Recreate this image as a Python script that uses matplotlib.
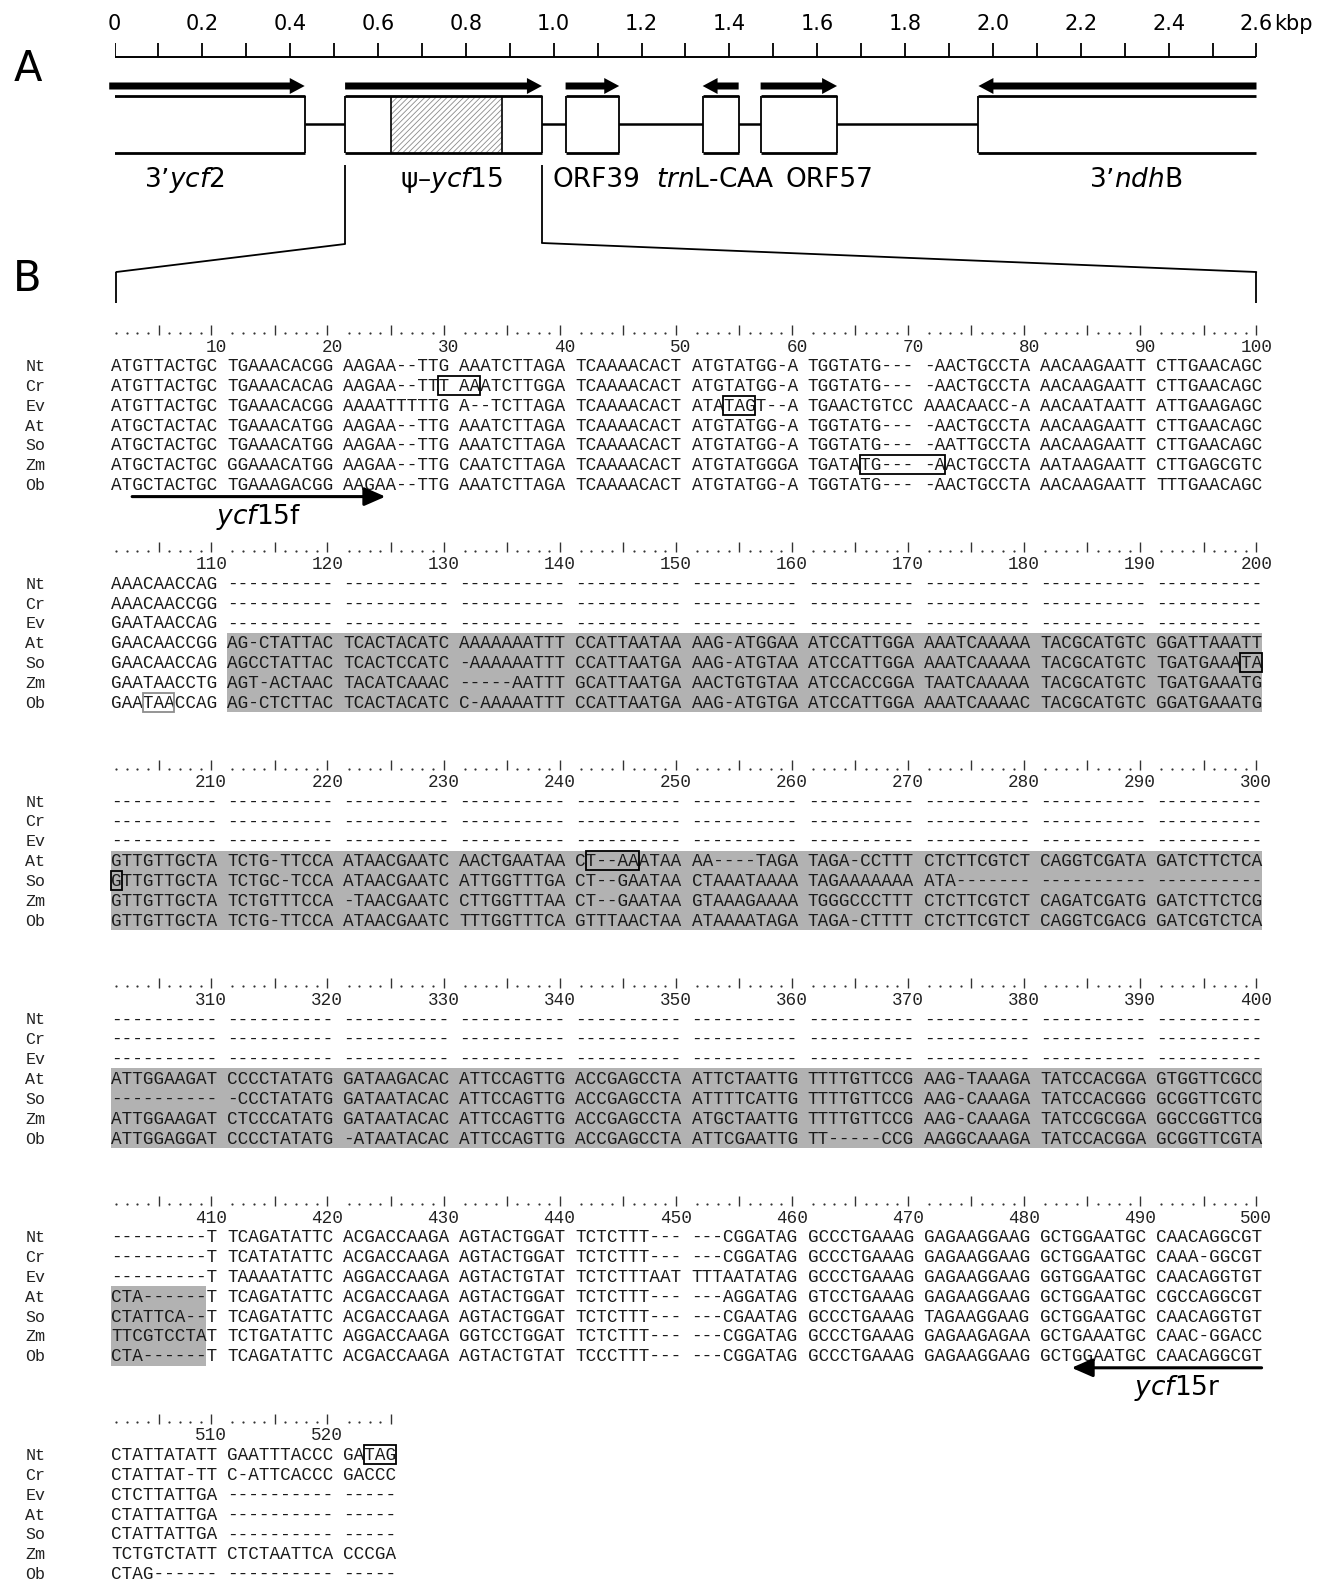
import matplotlib
matplotlib.use("Agg")
import matplotlib.pyplot as plt
import numpy as np
from matplotlib.patches import Rectangle, FancyArrow, ConnectionPatch

# ---------------------------------------------------------------
# Panel A: gene map of the region (kbp)
# ---------------------------------------------------------------
tick_labels = ["0", "0.2", "0.4", "0.6", "0.8", "1.0", "1.2", "1.4",
               "1.6", "1.8", "2.0", "2.2", "2.4", "2.6"]
gene_names = ["3’$\\it{ycf}$2", "ψ–$\\it{ycf}$15", "ORF39",
              "$\\it{trn}$L-CAA", "ORF57", "3’$\\it{ndh}$B"]
gene_start = [-0.012, 0.525, 1.027, 1.339, 1.471, 1.967]
gene_end = [0.433, 0.973, 1.149, 1.421, 1.645, 2.600]
gene_strand = [1, 1, 1, -1, 1, -1]
gene_label_x = [0.158, 0.767, 1.098, 1.368, 1.627, 2.325]
pseudo_start, pseudo_end = 0.629, 0.882

# ---------------------------------------------------------------
# Panel B: alignment of ycf15 region, 10-base chunks per line
# ---------------------------------------------------------------
species = ["Nt", "Cr", "Ev", "At", "So", "Zm", "Ob"]
G = "----------"

nt_seq = [
    "ATGTTACTGC", "TGAAACACGG", "AAGAA--TTG", "AAATCTTAGA", "TCAAAACACT", "ATGTATGG-A", "TGGTATG---", "-AACTGCCTA", "AACAAGAATT", "CTTGAACAGC",
    "AAACAACCAG", G, G, G, G, G, G, G, G, G,
    G, G, G, G, G, G, G, G, G, G,
    G, G, G, G, G, G, G, G, G, G,
    "---------T", "TCAGATATTC", "ACGACCAAGA", "AGTACTGGAT", "TCTCTTT---", "---CGGATAG", "GCCCTGAAAG", "GAGAAGGAAG", "GCTGGAATGC", "CAACAGGCGT",
    "CTATTATATT", "GAATTTACCC", "GATAG",
]
cr_seq = [
    "ATGTTACTGC", "TGAAACACAG", "AAGAA--TTT", "AAATCTTGGA", "TCAAAACACT", "ATGTATGG-A", "TGGTATG---", "-AACTGCCTA", "AACAAGAATT", "CTTGAACAGC",
    "AAACAACCGG", G, G, G, G, G, G, G, G, G,
    G, G, G, G, G, G, G, G, G, G,
    G, G, G, G, G, G, G, G, G, G,
    "---------T", "TCATATATTC", "ACGACCAAGA", "AGTACTGGAT", "TCTCTTT---", "---CGGATAG", "GCCCTGAAAG", "GAGAAGGAAG", "GCTGGAATGC", "CAAA-GGCGT",
    "CTATTAT-TT", "C-ATTCACCC", "GACCC",
]
ev_seq = [
    "ATGTTACTGC", "TGAAACACGG", "AAAATTTTTG", "A--TCTTAGA", "TCAAAACACT", "ATATAGT--A", "TGAACTGTCC", "AAACAACC-A", "AACAATAATT", "ATTGAAGAGC",
    "GAATAACCAG", G, G, G, G, G, G, G, G, G,
    G, G, G, G, G, G, G, G, G, G,
    G, G, G, G, G, G, G, G, G, G,
    "---------T", "TAAAATATTC", "AGGACCAAGA", "AGTACTGTAT", "TCTCTTTAAT", "TTTAATATAG", "GCCCTGAAAG", "GAGAAGGAAG", "GGTGGAATGC", "CAACAGGTGT",
    "CTCTTATTGA", G, "-----",
]
at_seq = [
    "ATGCTACTAC", "TGAAACATGG", "AAGAA--TTG", "AAATCTTAGA", "TCAAAACACT", "ATGTATGG-A", "TGGTATG---", "-AACTGCCTA", "AACAAGAATT", "CTTGAACAGC",
    "GAACAACCGG", "AG-CTATTAC", "TCACTACATC", "AAAAAAATTT", "CCATTAATAA", "AAG-ATGGAA", "ATCCATTGGA", "AAATCAAAAA", "TACGCATGTC", "GGATTAAATT",
    "GTTGTTGCTA", "TCTG-TTCCA", "ATAACGAATC", "AACTGAATAA", "CT--AAATAA", "AA----TAGA", "TAGA-CCTTT", "CTCTTCGTCT", "CAGGTCGATA", "GATCTTCTCA",
    "ATTGGAAGAT", "CCCCTATATG", "GATAAGACAC", "ATTCCAGTTG", "ACCGAGCCTA", "ATTCTAATTG", "TTTTGTTCCG", "AAG-TAAAGA", "TATCCACGGA", "GTGGTTCGCC",
    "CTA------T", "TCAGATATTC", "ACGACCAAGA", "AGTACTGGAT", "TCTCTTT---", "---AGGATAG", "GTCCTGAAAG", "GAGAAGGAAG", "GCTGGAATGC", "CGCCAGGCGT",
    "CTATTATTGA", G, "-----",
]
so_seq = [
    "ATGCTACTGC", "TGAAACATGG", "AAGAA--TTG", "AAATCTTAGA", "TCAAAACACT", "ATGTATGG-A", "TGGTATG---", "-AATTGCCTA", "AACAAGAATT", "CTTGAACAGC",
    "GAACAACCAG", "AGCCTATTAC", "TCACTCCATC", "-AAAAAATTT", "CCATTAATGA", "AAG-ATGTAA", "ATCCATTGGA", "AAATCAAAAA", "TACGCATGTC", "TGATGAAATA",
    "GTTGTTGCTA", "TCTGC-TCCA", "ATAACGAATC", "ATTGGTTTGA", "CT--GAATAA", "CTAAATAAAA", "TAGAAAAAAA", "ATA-------", G, G,
    G, "-CCCTATATG", "GATAATACAC", "ATTCCAGTTG", "ACCGAGCCTA", "ATTTTCATTG", "TTTTGTTCCG", "AAG-CAAAGA", "TATCCACGGG", "GCGGTTCGTC",
    "CTATTCA--T", "TCAGATATTC", "ACGACCAAGA", "AGTACTGGAT", "TCTCTTT---", "---CGAATAG", "GCCCTGAAAG", "TAGAAGGAAG", "GCTGGAATGC", "CAACAGGTGT",
    "CTATTATTGA", G, "-----",
]
zm_seq = [
    "ATGCTACTGC", "GGAAACATGG", "AAGAA--TTG", "CAATCTTAGA", "TCAAAACACT", "ATGTATGGGA", "TGATATG---", "-AACTGCCTA", "AATAAGAATT", "CTTGAGCGTC",
    "GAATAACCTG", "AGT-ACTAAC", "TACATCAAAC", "-----AATTT", "GCATTAATGA", "AACTGTGTAA", "ATCCACCGGA", "TAATCAAAAA", "TACGCATGTC", "TGATGAAATG",
    "GTTGTTGCTA", "TCTGTTTCCA", "-TAACGAATC", "CTTGGTTTAA", "CT--GAATAA", "GTAAAGAAAA", "TGGGCCCTTT", "CTCTTCGTCT", "CAGATCGATG", "GATCTTCTCG",
    "ATTGGAAGAT", "CTCCCATATG", "GATAATACAC", "ATTCCAGTTG", "ACCGAGCCTA", "ATGCTAATTG", "TTTTGTTCCG", "AAG-CAAAGA", "TATCCGCGGA", "GGCCGGTTCG",
    "TTCGTCCTAT", "TCTGATATTC", "AGGACCAAGA", "GGTCCTGGAT", "TCTCTTT---", "---CGGATAG", "GCCCTGAAAG", "GAGAAGAGAA", "GCTGAAATGC", "CAAC-GGACC",
    "TCTGTCTATT", "CTCTAATTCA", "CCCGA",
]
ob_seq = [
    "ATGCTACTGC", "TGAAAGACGG", "AAGAA--TTG", "AAATCTTAGA", "TCAAAACACT", "ATGTATGG-A", "TGGTATG---", "-AACTGCCTA", "AACAAGAATT", "TTTGAACAGC",
    "GAATAACCAG", "AG-CTCTTAC", "TCACTACATC", "C-AAAAATTT", "CCATTAATGA", "AAG-ATGTGA", "ATCCATTGGA", "AAATCAAAAC", "TACGCATGTC", "GGATGAAATG",
    "GTTGTTGCTA", "TCTG-TTCCA", "ATAACGAATC", "TTTGGTTTCA", "GTTTAACTAA", "ATAAAATAGA", "TAGA-CTTTT", "CTCTTCGTCT", "CAGGTCGACG", "GATCGTCTCA",
    "ATTGGAGGAT", "CCCCTATATG", "-ATAATACAC", "ATTCCAGTTG", "ACCGAGCCTA", "ATTCGAATTG", "TT-----CCG", "AAGGCAAAGA", "TATCCACGGA", "GCGGTTCGTA",
    "CTA------T", "TCAGATATTC", "ACGACCAAGA", "AGTACTGTAT", "TCCCTTT---", "---CGGATAG", "GCCCTGAAAG", "GAGAAGGAAG", "GCTGGAATGC", "CAACAGGCGT",
    "CTAG------", G, "-----",
]
sequences = [nt_seq, cr_seq, ev_seq, at_seq, so_seq, zm_seq, ob_seq]

# stop codons (row, first position, last position)
stop_rows = [1, 2, 5, 6, 4, 3, 0]
stop_first = [30, 54, 66, 104, 199, 242, 523]
stop_last = [32, 56, 72, 106, 201, 246, 525]
# insertion shared by At, So, Zm, Ob
shade_rows = [3, 4, 5, 6]
shade_first, shade_last = 111, 409
# primers: name, first, last, direction
primer_names = ["$\\it{ycf}$15f", "$\\it{ycf}$15r"]
primer_first = [3, 484]
primer_last = [24, 500]
primer_dir = [1, -1]

# ---------------------------------------------------------------
W, H = 1320, 1582
MONO = ["Liberation Mono", "DejaVu Sans Mono"]
MONO_SIZE = 12.67
fig = plt.figure(figsize=(W / 100, H / 100), dpi=100)
fig.patch.set_facecolor("white")

ax_map = fig.add_axes([114.5 / W, 0, (1256.5 - 114.5) / W, 1])
ax_map.set_xlim(0, 2.6)
ax_map.set_ylim(H, 0)
ax_map.axis("off")

X0, CW = 111.0, 10.556
ax_aln = fig.add_axes([0, 0, 1, 1])
ax_aln.set_xlim(-X0 / CW, (W - X0) / CW)
ax_aln.set_ylim(H, 0)
ax_aln.axis("off")

fig.text(28 / W, 1 - 69 / H, "A", fontsize=30, ha="center", va="center")
fig.text(27 / W, 1 - 279 / H, "B", fontsize=30, ha="center", va="center")

# scale bar
ticks = np.round(np.arange(0, 2.65, 0.1), 1)
ax_map.hlines(56.7, 0, 2.6, color="black", lw=1.4)
ax_map.vlines(ticks, 43, 56.7, color="black", lw=1.3)
for i, lab in enumerate(tick_labels):
    ax_map.text(0.2 * i, 24, lab, fontsize=15, ha="center", va="center")
ax_map.text(2.6 + 0.041, 24, "kbp", fontsize=15, ha="left", va="center")

# backbone and genes
Y_TOP, Y_BOT, Y_MID = 95.5, 153, 124
ax_map.hlines(Y_MID, gene_end[0], gene_start[-1], color="black", lw=1.8, zorder=1)
for s, e, d, name, lx in zip(gene_start, gene_end, gene_strand, gene_names, gene_label_x):
    ax_map.add_patch(Rectangle((s, Y_TOP), e - s, Y_BOT - Y_TOP, fc="white", ec="none", zorder=2))
    ax_map.hlines([Y_TOP, Y_BOT], s, e, color="black", lw=2.0, zorder=4)
    if s > 0:
        ax_map.vlines(s, Y_TOP, Y_BOT, color="black", lw=1.3, zorder=4)
    if e < 2.6:
        ax_map.vlines(e, Y_TOP, Y_BOT, color="black", lw=1.3, zorder=4)
    x_from, dx = (s, e - s) if d > 0 else (e, s - e)
    ax_map.add_patch(FancyArrow(x_from, 86, dx, 0, width=7, head_width=16,
                                head_length=0.034, length_includes_head=True,
                                color="black", lw=0, clip_on=False))
    ax_map.text(lx, 180, name, fontsize=19, ha="center", va="center")

plt.rcParams["hatch.linewidth"] = 0.6
ax_map.add_patch(Rectangle((pseudo_start, Y_TOP), pseudo_end - pseudo_start, Y_BOT - Y_TOP,
                           fill=False, hatch="//////", ec="#8a8a8a", lw=0, zorder=3))
ax_map.vlines([pseudo_start, pseudo_end], Y_TOP, Y_BOT, color="black", lw=1.2, zorder=4)

# zoom lines from the pseudogene to the alignment
for kx, ax_col, y_knee in [(gene_start[1], 0.5, 244), (gene_end[1], 108.5, 243)]:
    ax_map.vlines(kx, 165, y_knee, color="black", lw=1.3)
    fig.add_artist(ConnectionPatch(xyA=(kx, y_knee), coordsA=ax_map.transData,
                                   xyB=(ax_col, 272), coordsB=ax_aln.transData,
                                   color="black", lw=1.3))
    ax_aln.vlines(ax_col, 272, 303, color="black", lw=1.3)

# ---------------------------------------------------------------
# alignment blocks
aln_len = sum(len(c) for c in nt_seq)
BASE_Y, BLOCK_DY, ROW_DY = 365.5, 217.8, 19.85


def slot(p):
    q = (p - 1) % 100
    return q + q // 10


def row_y(b, r):
    return BASE_Y + b * BLOCK_DY + r * ROW_DY


n_blocks = (aln_len + 99) // 100
for b in range(n_blocks):
    first = b * 100 + 1
    last = min(aln_len, first + 99)
    y0 = row_y(b, 0)

    # ruler
    y_r = y0 - 31
    for p in range(first, last + 1):
        if p % 5 == 0:
            ax_aln.vlines(slot(p) + 0.5, y_r - 10, y_r, color="#333333", lw=1.0)
        else:
            ax_aln.plot(slot(p) + 0.5, y_r - 1.5, marker="o", ms=1.6, color="#333333", mec="none")
    for p in range(first, last + 1):
        if p % 10 == 0:
            ax_aln.text(slot(p) + 2.0, y0 - 14, str(p), family=MONO, fontsize=MONO_SIZE,
                        ha="right", va="baseline", color="#222222")

    # shaded insertion
    lo, hi = max(first, shade_first), min(last, shade_last)
    if lo <= hi:
        for r in shade_rows:
            ax_aln.add_patch(Rectangle((slot(lo), row_y(b, r) - 10), slot(hi) + 1 - slot(lo), ROW_DY,
                                       fc="#b2b2b2", ec="none", zorder=0))

    # sequences
    for r, (name, seq) in enumerate(zip(species, sequences)):
        y = row_y(b, r)
        ax_aln.text(-8.13, y + 5.5, name, family=MONO, fontsize=12, ha="left", va="baseline",
                    color="#222222")
        for k, chunk in enumerate(seq[b * 10:(b + 1) * 10]):
            ax_aln.text(k * 11, y + 5.5, chunk, family=MONO, fontsize=MONO_SIZE,
                        ha="left", va="baseline", color="#1a1a1a", zorder=3)

    # stop codon frames
    for r, s, e in zip(stop_rows, stop_first, stop_last):
        lo, hi = max(first, s), min(last, e)
        if lo <= hi:
            ec = "#8c8c8c" if r == 6 else "black"
            ax_aln.add_patch(Rectangle((slot(lo), row_y(b, r) - 9.5), slot(hi) + 1 - slot(lo), 19,
                                       fill=False, ec=ec, lw=1.3, zorder=4))

    # primers
    for name, s, e, d in zip(primer_names, primer_first, primer_last, primer_dir):
        if first <= s <= last:
            ya = row_y(b, 6) + 12
            left, right = slot(s), slot(e) + 1
            tail, tip = (left, right) if d > 0 else (right, left)
            ax_aln.annotate("", xy=(tip, ya), xytext=(tail, ya),
                            arrowprops=dict(arrowstyle="-|>,head_length=0.8,head_width=0.35",
                                            lw=2.2, color="black", mutation_scale=16,
                                            shrinkA=0, shrinkB=0))
            ax_aln.text((left + right) / 2 + (1 if d < 0 else 0), ya + 20, name,
                        fontsize=19, ha="center", va="center")

fig.savefig("out.png", dpi=100, facecolor="white")
